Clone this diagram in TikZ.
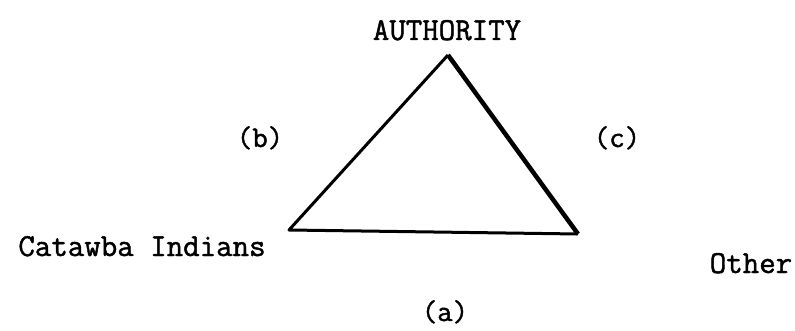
\documentclass[tikz,border=0pt]{standalone}
\usepackage{fontspec}
\newfontfamily\typer{Latin Modern Mono}[FakeBold=1.4]
\usetikzlibrary{positioning}

\begin{document}
\begin{tikzpicture}
    [x=1pt, y=-1pt,
    %auto,
    line join=round,
    corner/.style={inner sep=0pt, minimum size=0pt},
    side/.style={line width=#1, draw=black},
    word/.style={inner sep=0pt, anchor=base, font=\fontsize{32}{36}\typer},
    tag/.style={word, font=\fontsize{30}{36}\typer}]
        \useasboundingbox (0,0) rectangle (795,331);
        %% Triangle
        \node[corner] (top) at (448,55) {};
        \node[corner] (left) at (289,230) {};
        \node[corner] (right) at (578,234) {};

        \draw[side=3pt] (top.center) -- (left.center) -- (right.center);
        \draw[side=4.5pt] (right.center) -- (top.center);

        %% Labels
        \node[word] (authority) at (447,40) {AUTHORITY};
        \node[word] (catawba) at (142,256) {Catawba Indians};
        \node[word] (other) at (751,273) {Other};
        \node[tag] (b) at (260,147) {(b)};
        \node[tag] (c) at (617,147) {(c)};
        \node[tag] (a) at (445,321) {(a)};
    \end{tikzpicture}
\end{document}
